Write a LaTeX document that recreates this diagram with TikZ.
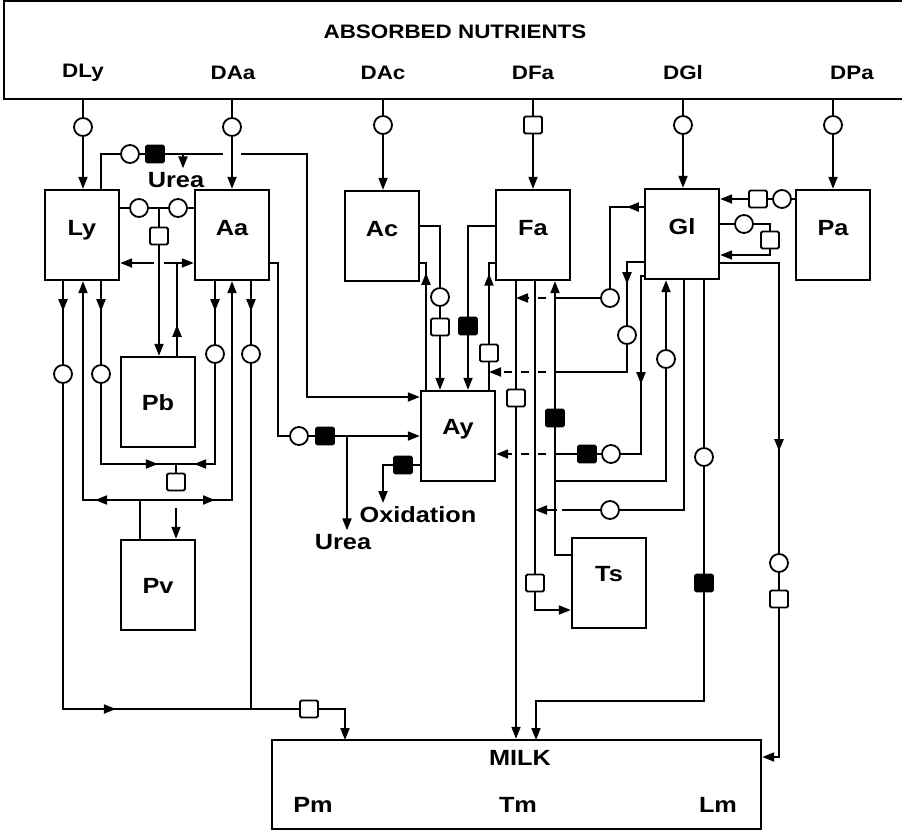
\documentclass[tikz,border=0pt]{standalone}
\usepackage{fontspec}
\setsansfont{Liberation Sans}[FakeStretch=1.15]
\usetikzlibrary{arrows.meta,decorations.markings}
\tikzset{
  pool/.style={draw, line width=2.4pt, minimum width=74pt, minimum height=90pt, inner sep=0pt,
    text height=15pt, text depth=15pt, font={\sffamily\bfseries\fontsize{22}{25}\selectfont}},
  circ/.style={draw, circle, fill=white, minimum size=18pt, inner sep=0pt, line width=1.8pt},
  sq/.style={draw, fill=white, minimum width=18pt, minimum height=17pt, inner sep=0pt, line width=1.8pt, rounded corners=1.5pt},
  bsq/.style={sq, fill=black},
  txt/.style={font={\sffamily\bfseries\fontsize{22}{25}\selectfont}, inner sep=3pt},
  head/.style={font={\sffamily\bfseries\fontsize{19.5}{22}\selectfont}, inner sep=2pt},
  arrowat/.style={postaction={decorate}, decoration={markings, mark=at position #1 with {\arrow{>}}}},
  gapdash/.style={dash pattern=on 8pt off 9pt},
}
\begin{document}
\begin{tikzpicture}[x=1pt, y=-1pt, line width=1.9pt, >={Triangle[length=12pt,width=9pt]}]
\useasboundingbox (0,0) rectangle (902,831);
% nutrient supply
\node[minimum width=897pt, minimum height=96pt, inner sep=0pt] (nutr) at (453.5,50) {};
\draw[line width=2.4pt] (nutr.north east) -- (nutr.north west) -- (nutr.south west) -- (nutr.south east);
\node[head] (title) at (455,32) {ABSORBED NUTRIENTS};
\foreach \x/\t in {83/DLy, 233/DAa, 383/DAc, 533/DFa, 683/DGl, 852/DPa}
  \node[head] (lab\t) at (\x,73) {\t};

% pools
\node[pool] (Ly) at (82,235) {Ly};
\node[pool] (Aa) at (232,235) {Aa};
\node[pool] (Ac) at (382,236) {Ac};
\node[pool] (Fa) at (533,235) {Fa};
\node[pool] (Gl) at (682,234) {Gl};
\node[pool] (Pa) at (833,235) {Pa};
\node[pool, text height=16pt, text depth=0pt] (Pb) at (158,402) {Pb};
\node[pool, text height=16pt, text depth=0pt] (Pv) at (158,585) {Pv};
\node[pool, text depth=19pt] (Ay) at (458,436) {Ay};
\node[pool, text depth=19pt] (Ts) at (609,583) {Ts};
\node[pool, minimum width=489pt, minimum height=89pt] (milk) at (516.5,784.5) {};
\node[txt] (milkT) at (520,758) {MILK};
\node[txt] (Pm) at (313,805) {Pm};
\node[txt] (Tm) at (518,805) {Tm};
\node[txt] (Lm) at (718,805) {Lm};

% regulators
\node[circ] (cDLy) at (83,127) {};
\node[circ] (cDAa) at (232,127) {};
\node[circ] (cDAc) at (383,125) {};
\node[sq] (sDFa) at (533,125) {};
\node[circ] (cDGl) at (683,125) {};
\node[circ] (cDPa) at (833,125) {};
\node[circ] (cLyU) at (130,154) {};
\node[bsq] (bLyU) at (155,154) {};
\node[circ] (cLyAa1) at (139,208) {};
\node[circ] (cLyAa2) at (178,208) {};
\node[sq] (sLyAa) at (159,236) {};
\node[circ] (cLy1) at (63,374) {};
\node[circ] (cLy3) at (101,374) {};
\node[circ] (cAa1) at (215,354) {};
\node[circ] (cAa3) at (251,354) {};
\node[sq] (sPv) at (176,482) {};
\node[sq] (sMilkP) at (309,709) {};
\node[circ] (cAaAy) at (299,436) {};
\node[bsq] (bAaAy) at (325,436) {};
\node[bsq] (bOx) at (403,465) {};
\node[circ] (cAc) at (440,297) {};
\node[sq] (sAc) at (440,327) {};
\node[bsq] (bFa) at (468,326) {};
\node[sq] (sAyFa) at (489,353) {};
\node[sq] (sFaM) at (516,398) {};
\node[bsq] (bTsFa) at (555,418) {};
\node[sq] (sFaTs) at (535,583) {};
\node[circ] (cGl1) at (610,298) {};
\node[circ] (cGl2) at (627,335) {};
\node[circ] (cGlAy) at (611,454) {};
\node[bsq] (bGlAy) at (587,454) {};
\node[circ] (cTsGl) at (666,359) {};
\node[circ] (cGlTs) at (610,510) {};
\node[circ] (cGlM) at (704,457) {};
\node[bsq] (bGlM) at (704,583) {};
\node[circ] (cGlL) at (779,563) {};
\node[sq] (sGlL) at (779,599) {};
\node[sq] (sPaGl) at (758,199) {};
\node[circ] (cPaGl) at (782,199) {};
\node[circ] (cGlL2) at (744,224) {};
\node[sq] (sGlL2) at (770,240) {};

% texts
\node[txt] (urea1) at (176,180) {Urea};
\node[txt] (urea2) at (343,542) {Urea};
\node[txt] (oxid) at (418,515) {Oxidation};

% inputs
\foreach \m/\b in {cDLy/Ly, cDAa/Aa, cDAc/Ac, sDFa/Fa, cDGl/Gl, cDPa/Pa}
  \draw[->] (\m |- nutr.south) -- (\m) -- (\m |- \b.north);

% Ly -> Ay, urea
\draw (cLy3 |- Ly.north) |- (cLyU);
\draw (cLyU) -- (bLyU);
\draw (bLyU) -- (223,154);
\draw[->] (241,154) -| (307,397) -- (Ay.west |- 0,397);
\coordinate (jU1) at (183,154);
\draw[->] (jU1) -- (jU1 |- urea1.north);

% Ly <-> Aa, to Pb
\draw (Ly.east |- cLyAa1) -- (cLyAa1) -- (cLyAa2) -- (Aa.west |- cLyAa2);
\coordinate (jLA) at (159,208);
\draw (jLA) -- (sLyAa);
\draw[->] (sLyAa) -- (sLyAa |- Pb.north);

% Pb -> Ly, Aa
\coordinate (jPb) at (177,263);
\draw[arrowat=31pt] (Pb.north -| jPb) -- (jPb);
\draw (jPb) -- (164,263);
\draw[->] (154,263) -- (Ly.east |- jPb);
\draw[->] (jPb) -- (Aa.west |- jPb);

% Ly, Aa bottom
\draw[arrowat=30pt] (cLy1 |- Ly.south) -- (cLy1);
\draw[arrowat=378pt] (cLy1) |- (sMilkP);
\coordinate (inPm) at (345,740);
\draw[->] (sMilkP) -| (inPm);
\draw[arrowat=30pt] (cLy3 |- Ly.south) -- (cLy3);
\coordinate (jMix) at (176,464);
\draw[arrowat=137pt] (cLy3) |- (jMix);
\draw[arrowat=30pt] (cAa1 |- Aa.south) -- (cAa1);
\draw[arrowat=121pt] (cAa1) |- (jMix);
\draw (jMix) -- (sPv);
\coordinate (gPv) at (176,508);
\draw[->] (gPv) -- (gPv |- Pv.north);
\draw[arrowat=30pt] (cAa3 |- Aa.south) -- (cAa3);
\draw (cAa3) -- (cAa3 |- sMilkP);

% Pv -> Ly, Aa
\coordinate (jPv) at (140,500);
\draw (Pv.north -| jPv) -- (jPv);
\draw[->, arrowat=45pt] (jPv) -| (cDLy |- Ly.south);
\draw[->, arrowat=75pt] (jPv) -| (cDAa |- Aa.south);

% Aa -> Ay, urea, oxidation
\draw (Aa.east |- jPb) -- (278,263) |- (cAaAy);
\draw (cAaAy) -- (bAaAy);
\draw[->] (bAaAy) -- (Ay.west |- bAaAy);
\coordinate (jU2) at (347,436);
\draw[->] (jU2) -- (jU2 |- urea2.north);
\draw (Ay.west |- bOx) -- (bOx);
\coordinate (oxIn) at (383,503);
\draw[->] (bOx) -| (oxIn);

% Ac <-> Ay
\draw (Ac.east |- 0,226) -| (cAc);
\draw (cAc) -- (sAc);
\draw[->] (sAc) -- (sAc |- Ay.north);
\draw[arrowat=117pt] (Ay.north -| 426,0) |- (Ac.east |- 0,263);

% Fa <-> Ay
\draw (Fa.west |- 0,226) -| (bFa);
\draw[->] (bFa) -- (bFa |- Ay.north);
\draw (sAyFa |- Ay.north) -- (sAyFa);
\draw[arrowat=70pt] (sAyFa) |- (Fa.west |- 0,263);

% Fa -> milk, Ts
\draw (sFaM |- Fa.south) -- (sFaM);
\draw[->] (sFaM) -- (sFaM |- milk.north);
\draw (sFaTs |- Fa.south) -- (sFaTs);
\draw[->] (sFaTs) |- (Ts.west |- 0,610);

% Ts -> Fa, Gl
\draw (Ts.west |- 0,555) -| (bTsFa);
\draw[->] (bTsFa) -- (bTsFa |- Fa.south);
\coordinate (jTs) at (555,481);
\draw (jTs) -| (cTsGl);
\draw[->] (cTsGl) -- (cTsGl |- Gl.south);

% Gl controls
\draw[arrowat=17pt] (Gl.west |- 0,207) -| (cGl1);
\draw (cGl1) -- (563,298);
\draw[->, gapdash] (563,298) -- (sFaM |- cGl1);
\draw[arrowat=39pt] (Gl.west |- 0,262) -| (cGl2);
\draw (cGl2) |- (563,372);
\draw[->, gapdash] (563,372) -- (sAyFa |- 0,372);
\draw[arrowat=111pt] (Gl.west |- 0,276) -| (641,454) -- (cGlAy);
\draw (cGlAy) -- (bGlAy);
\draw (bGlAy) -- (563,454);
\draw[->, gapdash] (563,454) -- (Ay.east |- bGlAy);
\draw (Gl.south -| 684,0) |- (cGlTs);
\draw (cGlTs) -- (562,510);
\draw[->] (557,510) -- (sFaTs |- cGlTs);

% Gl -> milk
\draw (cGlM |- Gl.south) -- (cGlM);
\draw (cGlM) -- (bGlM);
\coordinate (kTm) at (536,701);
\coordinate (inTm) at (536,740);
\draw[->] (bGlM) |- (kTm) -- (inTm);
\draw[arrowat=247pt] (Gl.east |- 0,263) -| (cGlL);
\draw (cGlL) -- (sGlL);
\draw[->] (sGlL) |- (milk.east |- 0,757);

% Pa -> Gl, Gl loop
\draw (Pa.west |- cPaGl) -- (cPaGl);
\draw (cPaGl) -- (sPaGl);
\draw[->] (sPaGl) -- (Gl.east |- sPaGl);
\draw (Gl.east |- cGlL2) -- (cGlL2) -| (sGlL2);
\draw[->] (sGlL2) |- (Gl.east |- 0,255);
\end{tikzpicture}
\end{document}
